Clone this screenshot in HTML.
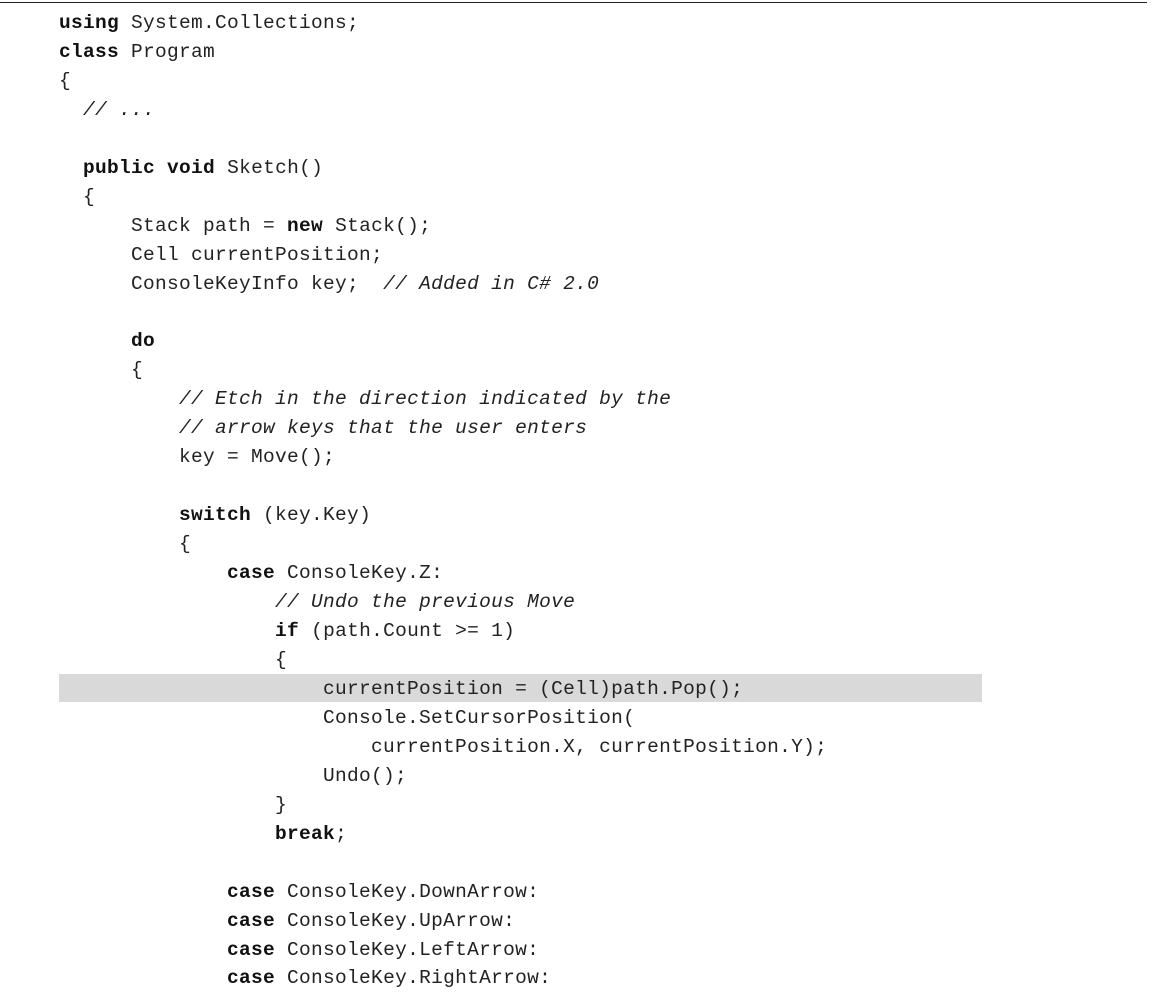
<!DOCTYPE html>
<html><head><meta charset="utf-8"><style>
html,body{margin:0;padding:0;background:#fff;width:1152px;height:989px;overflow:hidden}
.rule{position:absolute;left:0;top:2px;width:1147px;height:1px;background:#222}
.hl{position:absolute;left:59px;top:674px;width:923px;height:28px;background:#d9d9d9}
pre{position:absolute;left:59px;top:9px;margin:0;font-family:"Liberation Mono",monospace;font-size:19.5px;line-height:28.95px;color:#222;letter-spacing:0.3px}
b{font-weight:bold;color:#111}
i{font-style:italic}
</style></head><body>
<div class="rule"></div>
<div class="hl"></div>
<pre><b>using</b> System.Collections;
<b>class</b> Program
{
  <i>// ...</i>

  <b>public</b> <b>void</b> Sketch()
  {
      Stack path = <b>new</b> Stack();
      Cell currentPosition;
      ConsoleKeyInfo key;  <i>// Added in C# 2.0</i>

      <b>do</b>
      {
          <i>// Etch in the direction indicated by the</i>
          <i>// arrow keys that the user enters</i>
          key = Move();

          <b>switch</b> (key.Key)
          {
              <b>case</b> ConsoleKey.Z:
                  <i>// Undo the previous Move</i>
                  <b>if</b> (path.Count &gt;= 1)
                  {
                      currentPosition = (Cell)path.Pop();
                      Console.SetCursorPosition(
                          currentPosition.X, currentPosition.Y);
                      Undo();
                  }
                  <b>break</b>;

              <b>case</b> ConsoleKey.DownArrow:
              <b>case</b> ConsoleKey.UpArrow:
              <b>case</b> ConsoleKey.LeftArrow:
              <b>case</b> ConsoleKey.RightArrow:
</pre>
</body></html>
